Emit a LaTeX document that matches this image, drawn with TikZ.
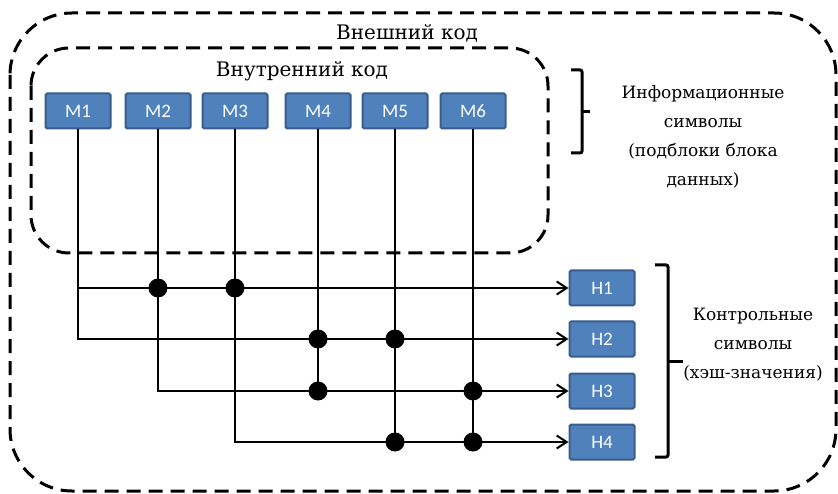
\documentclass[tikz,border=0pt]{standalone}
\usepackage{fontspec}
\newfontfamily\labelfont{DejaVu Serif}
\newfontfamily\boxfont{Carlito}
\usetikzlibrary{arrows.meta}

\definecolor{boxfill}{HTML}{4F81BD}
\definecolor{boxline}{HTML}{385D8A}

\begin{document}
\begin{tikzpicture}[x=1pt,y=-1pt,
      sym/.style={rectangle,draw=boxline,fill=boxfill,line width=2pt,
        rounded corners=1.5pt,minimum width=65pt,minimum height=35pt,
        text=white,font=\boxfont\fontsize{19}{22}\selectfont},
      wire/.style={line width=2pt},
      codebox/.style={dashed,line width=3pt,dash pattern=on 14pt off 8pt},
      brace/.style={line width=3pt,rounded corners=2pt},
      lbl/.style={align=center,font=\labelfont\fontsize{17}{29}\selectfont},
      >={Straight Barb[length=10pt,width=13pt,line width=2pt]}]
    \useasboundingbox (0,0) rectangle (838,494);

    % outer and inner code
    \draw[codebox,rounded corners=62pt] (10,13) rectangle (836,491);
    \draw[codebox,rounded corners=38pt] (31,48) rectangle (548,253);
    \node[lbl,font=\labelfont\fontsize{20}{28}\selectfont] (outer) at (407,33) {Внешний код};
    \node[lbl,font=\labelfont\fontsize{20}{28}\selectfont] (inner) at (302,71) {Внутренний код};

    % information symbols
    \node[sym] (M1) at (78,111) {M1};
    \node[sym] (M2) at (158,111) {M2};
    \node[sym] (M3) at (235,111) {M3};
    \node[sym] (M4) at (318,111) {M4};
    \node[sym] (M5) at (395,111) {M5};
    \node[sym] (M6) at (473,111) {M6};

    % check symbols
    \node[sym] (H1) at (602,288) {H1};
    \node[sym] (H2) at (602,339) {H2};
    \node[sym] (H3) at (602,391) {H3};
    \node[sym] (H4) at (602,442) {H4};

    % wires
    \draw[wire,->] (M1.south) |- (H1.west);
    \draw[wire,->] (M1.south) |- (H2.west);
    \draw[wire,->] (M2.south) |- (H3.west);
    \draw[wire,->] (M3.south) |- (H4.west);
    \draw[wire] (M4.south) -- (M4.south |- H3.west);
    \draw[wire] (M5.south) -- (M5.south |- H4.west);
    \draw[wire] (M6.south) -- (M6.south |- H4.west);

    % joints
    \foreach \m/\h in {M2/H1,M3/H1,M4/H2,M5/H2,M4/H3,M6/H3,M5/H4,M6/H4}
      \fill (\m.south |- \h.west) circle (9.5pt);

    % braces
    \draw[brace] (571,70) -- (582,70) -- (582,153) -- (571,153);
    \draw[brace] (582,112) -- (590,112);
    \draw[brace] (655,265) -- (668,265) -- (668,457) -- (655,457);
    \draw[brace] (668,361) -- (683,361);

    \node[lbl] (info) at (703,137) {Информационные\\символы\\(подблоки блока\\данных)};
    \node[lbl] (check) at (753,345) {Контрольные\\символы\\(хэш-значения)};
  \end{tikzpicture}
\end{document}
